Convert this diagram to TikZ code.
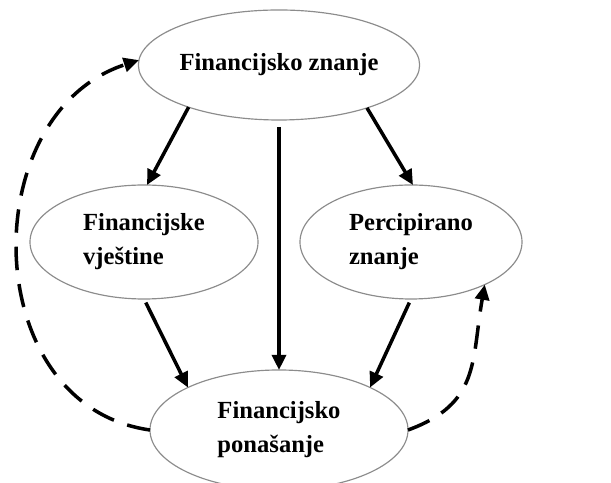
\documentclass[tikz,border=0pt]{standalone}
\usepackage{fontspec}
\setmainfont{Liberation Serif}
\usetikzlibrary{shapes.geometric,arrows.meta}
\begin{document}
\begin{tikzpicture}[x=0.03cm, y=0.03cm,
    pojam/.style={ellipse, draw=black!45, line width=1pt, inner sep=0pt, outer sep=0pt,
      align=left, font=\fontsize{21}{29}\selectfont\bfseries},
    veza/.style={->, line width=3pt},
    povratna/.style={->, line width=3pt, dash pattern=on 20pt off 12pt},
    >={Triangle[length=13pt, width=12pt]}]
      \useasboundingbox (0,0) rectangle (611,483);
      %nodes
      \node[pojam, minimum width=7.74cm, minimum height=3.3cm] (zn) at (279,418) {Financijsko znanje};
      \node[pojam, minimum width=6.84cm, minimum height=3.42cm] (fv) at (144,241) {Financijske\\vještine};
      \node[pojam, minimum width=6.66cm, minimum height=3.42cm] (pz) at (411,241) {Percipirano\\znanje};
      \node[pojam, minimum width=7.74cm, minimum height=3.6cm] (fp) at (279,53) {Financijsko\\ponašanje};
      %arrows
      \draw[veza] (zn.205) -- (fv.87);
      \draw[veza] (zn.-26) -- (pz.88);
      \draw[veza, shorten <=0.21cm] (zn.south) -- (fp.north);
      \draw[veza, shorten <=0.12cm] (fv.south) -- (fp.155);
      \draw[veza, shorten <=0.12cm] (pz.south) -- (fp.25);
      %dashed
      \draw[povratna] (fp.west) to[out=172, in=198, looseness=1.2] (zn.178);
      \draw[povratna] (fp.east) to[out=20, in=260, looseness=1.2] (pz.-30);
    \end{tikzpicture}
\end{document}
